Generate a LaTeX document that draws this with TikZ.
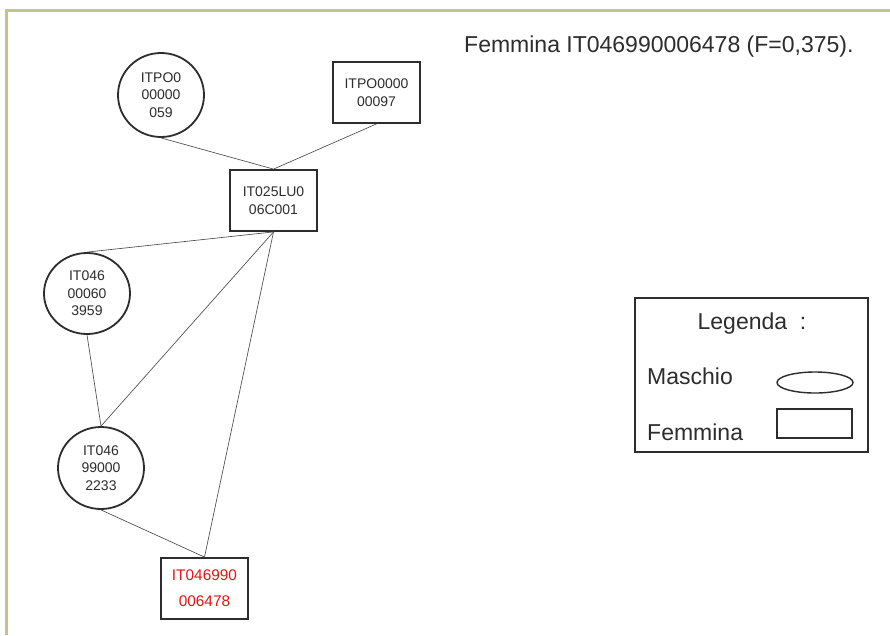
\documentclass[tikz,border=0pt]{standalone}
\usepackage{fontspec}
\setmainfont{Liberation Sans}
\usetikzlibrary{shapes.geometric}
\definecolor{txt}{RGB}{45,45,45}
\definecolor{frame}{RGB}{195,195,145}
\definecolor{redtxt}{RGB}{230,20,20}
\begin{document}
\begin{tikzpicture}[x=1pt,y=-1pt,
  maschio/.style={draw=txt,line width=1.8pt,fill=white,ellipse,inner sep=0pt,
    font=\fontsize{14}{17.5}\selectfont,text=txt,align=center},
  femmina/.style={draw=txt,line width=1.8pt,fill=white,rectangle,inner sep=0pt,
    minimum width=87pt,minimum height=61pt,
    font=\fontsize{14}{17.5}\selectfont,text=txt,align=center},
  link/.style={draw=txt!85,line width=0.65pt},
  big/.style={font=\fontsize{23}{28}\selectfont,text=txt,inner sep=0pt}]
\useasboundingbox (0,0) rectangle (890,635);
\fill[white] (0,0) rectangle (890,635);
\draw[frame,line width=3pt] (6,635) -- (6,10) -- (890,10);

\node[big,anchor=base west] (title) at (464,52) {Femmina IT046990006478 (F=0,375).};

\node[maschio,minimum width=86pt,minimum height=84pt] (m1) at (161,95) {ITPO0\\00000\\059};
\node[femmina] (f1) at (376.5,92.5) {ITPO0000\\00097};
\node[femmina] (f2) at (273.5,200.5) {IT025LU0\\06C001};
\node[maschio,minimum width=86pt,minimum height=81pt] (m2) at (87,293.5) {IT046\\00060\\3959};
\node[maschio,minimum width=86pt,minimum height=82pt] (m3) at (101,468) {IT046\\99000\\2233};
\node[femmina,text=redtxt,font=\fontsize{15.4}{26}\selectfont] (f3) at (204.5,588.5) {IT046990\\006478};

\path[link] (m1.south) -- (f2.north);
\path[link] (f1.south) -- (f2.north);
\path[link] (f2.south) -- (m2.north);
\path[link] (f2.south) -- (m3.north);
\path[link] (f2.south) -- (f3.north);
\path[link] (m2.south) -- (m3.north);
\path[link] (m3.south) -- (f3.north);

% legend
\node[draw=txt,line width=2pt,minimum width=233pt,minimum height=154pt,inner sep=0pt] (leg) at (751.5,375) {};
\node[big,anchor=base] (legt) at (752,329) {Legenda\ \ :};
\node[big,anchor=base west] (lm) at (647,384) {Maschio};
\node[big,anchor=base west] (lf) at (647,440) {Femmina};
\node[draw=txt,line width=1.4pt,ellipse,minimum width=76pt,minimum height=21pt,inner sep=0pt] (le) at (815,382.5) {};
\node[draw=txt,line width=1.4pt,minimum width=75pt,minimum height=29pt,inner sep=0pt] (lr) at (814.5,423.5) {};
\end{tikzpicture}
\end{document}
